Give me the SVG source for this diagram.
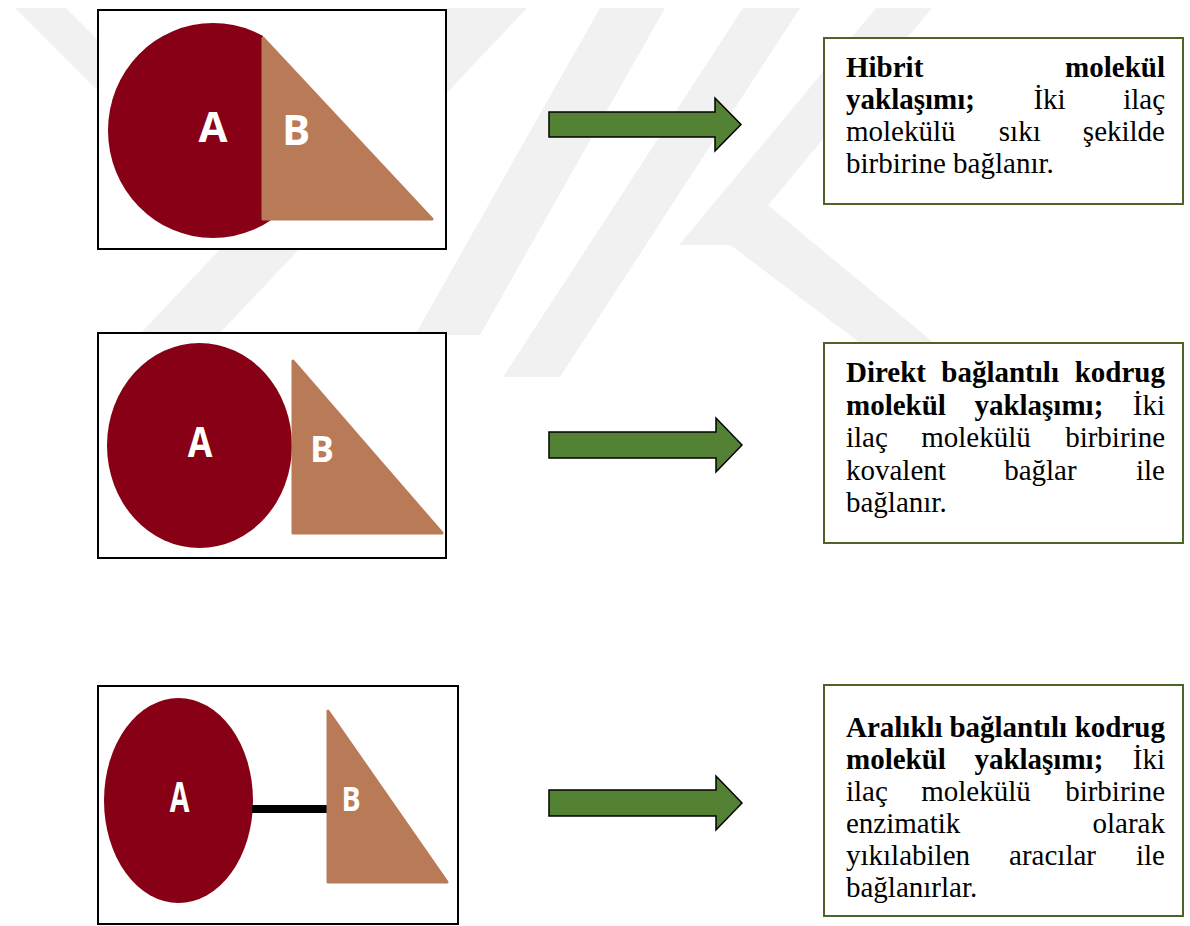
<svg xmlns="http://www.w3.org/2000/svg" width="1190" height="926" viewBox="0 0 1190 926">
  <style>
    .wm { fill: #f1f1f1; }
    .frame { fill: #ffffff; stroke: #000000; stroke-width: 2; }
    .molA { fill: #880015; }
    .molB { fill: #b97a57; stroke: #b97a57; stroke-width: 3; stroke-linejoin: round; }
    .lbl { font-family: "Open Sans", "DejaVu Sans", sans-serif; font-weight: bold; font-size: 42px; fill: #ffffff; text-anchor: middle; }
    .arrow { fill: #548235; stroke: #000000; stroke-width: 1.5; stroke-linejoin: miter; }
    .tbox { fill: #ffffff; stroke: #4f6228; stroke-width: 2; }
    .t { font-family: "Liberation Serif", "Times New Roman", serif; font-size: 29px; fill: #000000; }
    .b { font-weight: bold; }
    .e { text-anchor: end; }
  </style>
  <defs>
    <clipPath id="clip1">
      <polygon points="0,0 263,0 263,219 300,219 300,300 0,300"/>
    </clipPath>
  </defs>
  <rect x="0" y="0" width="1190" height="926" fill="#ffffff"/>

  <g id="watermark">
    <polygon class="wm" points="15,8 66,8 200,142 149,142"/>
    <polygon class="wm" points="448,8 527,8 218,335 139,335"/>
    <polygon class="wm" points="600,8 665,8 480,335 415,335"/>
    <polygon class="wm" points="743,8 800,8 560,377 503,377"/>
    <polygon class="wm" points="876,8 932,8 735,245 679,245"/>
    <polygon class="wm" points="700,222 752,192 975,377 905,377"/>
  </g>

  <g id="node-hybrid-image">
    <rect class="frame" x="98" y="10" width="348" height="239"/>
    <ellipse class="molA" cx="213" cy="130.5" rx="105" ry="107.5" clip-path="url(#clip1)"/>
    <polygon class="molB" points="263,38 263,219 432,219"/>
    <text class="lbl" x="213" y="141.5">A</text>
    <text class="lbl" x="296" y="145">B</text>
  </g>

  <g id="node-direct-image">
    <rect class="frame" x="98" y="333" width="348" height="225"/>
    <ellipse class="molA" cx="199.5" cy="445.5" rx="92.5" ry="102.5"/>
    <polygon class="molB" points="293,361 293,533 442,533"/>
    <text class="lbl" transform="translate(200,457) scale(0.85,1)" x="0" y="0">A</text>
    <text class="lbl" transform="translate(322,462) scale(0.85,0.85)" x="0" y="0">B</text>
  </g>

  <g id="node-spacer-image">
    <rect class="frame" x="98" y="686" width="360" height="238"/>
    <ellipse class="molA" cx="178.5" cy="800.5" rx="74.5" ry="102.5"/>
    <rect x="252" y="805" width="76" height="8" fill="#000000"/>
    <polygon class="molB" points="328,711 328,882 447,882"/>
    <text class="lbl" transform="translate(179.5,812) scale(0.68,1)" x="0" y="0">A</text>
    <text class="lbl" transform="translate(351,811) scale(0.68,0.82)" x="0" y="0">B</text>
  </g>

  <g id="connectors">
    <polygon class="arrow" points="549,112 715,112 715,98 741,124.5 715,151 715,137 549,137"/>
    <polygon class="arrow" points="549,432 716,432 716,418 742,445 716,472 716,458 549,458"/>
    <polygon class="arrow" points="549,790 716,790 716,776 742,803 716,830 716,816 549,816"/>
  </g>

  <g id="node-hybrid-text">
    <rect class="tbox" x="824" y="38" width="359" height="166"/>
    <text class="t b" x="846" y="77">Hibrit</text>
    <text class="t b e" x="1165" y="77">molekül</text>
    <text class="t b" x="846" y="109">yaklaşımı;</text>
    <text class="t" x="1033.4" y="109">İki</text>
    <text class="t e" x="1165" y="109">ilaç</text>
    <text class="t" x="846" y="141">molekülü</text>
    <text class="t" x="998.8" y="141">sıkı</text>
    <text class="t e" x="1165" y="141">şekilde</text>
    <text class="t" x="846" y="173">birbirine bağlanır.</text>
  </g>

  <g id="node-direct-text">
    <rect class="tbox" x="824" y="343" width="359" height="200"/>
    <text class="t b" x="846" y="382">Direkt</text>
    <text class="t b" x="941.3" y="382">bağlantılı</text>
    <text class="t b e" x="1165" y="382">kodrug</text>
    <text class="t b" x="846" y="415">molekül</text>
    <text class="t b" x="974.4" y="415">yaklaşımı;</text>
    <text class="t e" x="1165" y="415">İki</text>
    <text class="t" x="846" y="447">ilaç</text>
    <text class="t" x="921.2" y="447">molekülü</text>
    <text class="t e" x="1165" y="447">birbirine</text>
    <text class="t" x="846" y="480">kovalent</text>
    <text class="t" x="1004.2" y="480">bağlar</text>
    <text class="t e" x="1165" y="480">ile</text>
    <text class="t" x="846" y="512">bağlanır.</text>
  </g>

  <g id="node-spacer-text">
    <rect class="tbox" x="824" y="685" width="359" height="231"/>
    <text class="t b" x="846" y="737">Aralıklı</text>
    <text class="t b" x="949.4" y="737">bağlantılı</text>
    <text class="t b e" x="1165" y="737">kodrug</text>
    <text class="t b" x="846" y="769">molekül</text>
    <text class="t b" x="974.4" y="769">yaklaşımı;</text>
    <text class="t e" x="1165" y="769">İki</text>
    <text class="t" x="846" y="801">ilaç</text>
    <text class="t" x="921.2" y="801">molekülü</text>
    <text class="t e" x="1165" y="801">birbirine</text>
    <text class="t" x="846" y="833">enzimatik</text>
    <text class="t e" x="1165" y="833">olarak</text>
    <text class="t" x="846" y="865">yıkılabilen</text>
    <text class="t" x="1009.1" y="865">aracılar</text>
    <text class="t e" x="1165" y="865">ile</text>
    <text class="t" x="846" y="897">bağlanırlar.</text>
  </g>
</svg>
